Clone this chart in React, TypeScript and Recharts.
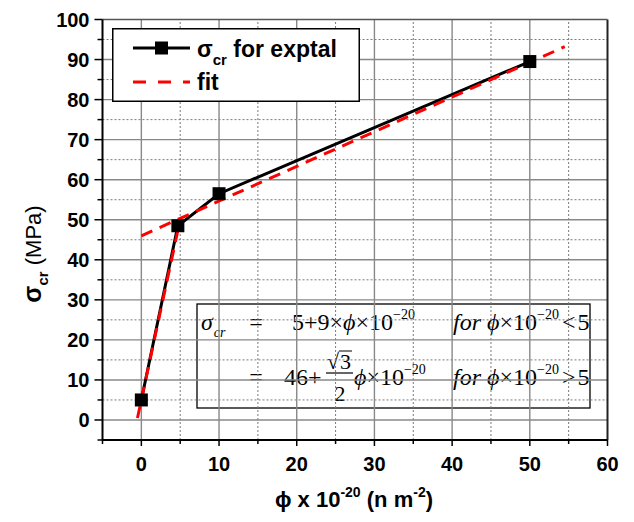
import { LineChart, Line, XAxis, YAxis, ReferenceLine, Legend } from 'recharts';

// experimental points
const expPhi = [0, 4.7, 10, 50];
const expSigma = [5, 48.5, 56.5, 89.5];

// fit segments (end points)
const fitLowPhi = [-0.5, 5];
const fitLowSigma = [0.5, 50];
const fitHighPhi = [0, 54.5];
const fitHighSigma = [46, 93.2];

const xTicks = [-5, 0, 5, 10, 15, 20, 25, 30, 35, 40, 45, 50, 55, 60];
const yTicks = [-5, 0, 5, 10, 15, 20, 25, 30, 35, 40, 45, 50, 55, 60, 65, 70, 75, 80, 85, 90, 95, 100];
const xMajorGrid = [0, 10, 20, 30, 40, 50];
const xMinorGrid = [5, 15, 25, 35, 45, 55];
const yMajorGrid = [0, 10, 20, 30, 40, 50, 60, 70, 80, 90];
const yMinorGrid = [5, 15, 25, 35, 45, 55, 65, 75, 85, 95];

const expData = expPhi.map((x, i) => ({ x, y: expSigma[i] }));
const fitLowData = fitLowPhi.map((x, i) => ({ x, y: fitLowSigma[i] }));
const fitHighData = fitHighPhi.map((x, i) => ({ x, y: fitHighSigma[i] }));

const sans = '"Liberation Sans", Arial, sans-serif';
const serif = '"Liberation Serif", "Times New Roman", serif';

const YTick = (props: any) => {
  const { x, y, payload } = props;
  const v = payload.value;
  const major = v % 10 === 0;
  return (
    <g>
      <line x1={x - (major ? 8 : 5)} x2={x} y1={y} y2={y} stroke="#000" strokeWidth={1.5} />
      {major && v >= 0 && (
        <text x={x - 13} y={y + 7} textAnchor="end" fontFamily={sans} fontWeight="bold" fontSize={20} fill="#000">
          {v}
        </text>
      )}
    </g>
  );
};

const XTick = (props: any) => {
  const { x, y, payload } = props;
  const v = payload.value;
  const major = v % 10 === 0;
  return (
    <g>
      <line x1={x} x2={x} y1={y} y2={y + (major ? 6 : 4)} stroke="#000" strokeWidth={1.5} />
      {major && v >= 0 && (
        <text x={x} y={y + 31} textAnchor="middle" fontFamily={sans} fontWeight="bold" fontSize={20} fill="#000">
          {v}
        </text>
      )}
    </g>
  );
};

const Square = (props: any) => {
  const { cx, cy } = props;
  if (cx == null || cy == null) return null;
  return <rect x={cx - 6.5} y={cy - 6.5} width={13} height={13} fill="#000" />;
};

const LegendBox = (props: any) => {
  const entries = (props.payload || []).filter((e: any) => e.type !== 'none');
  return (
    <svg width={248} height={74} style={{ display: 'block' }}>
      <rect x={0.75} y={0.75} width={246.5} height={72.5} fill="#fff" stroke="#000" strokeWidth={1.5} />
      {entries.map((e: any, i: number) => {
        const ly = i === 0 ? 20 : 54;
        const by = i === 0 ? 29 : 62;
        const isFit = e.value === 'fit';
        return (
          <g key={i}>
            <line
              x1={21}
              x2={78}
              y1={ly}
              y2={ly}
              stroke={isFit ? '#ff0000' : '#000'}
              strokeWidth={3}
              strokeDasharray={isFit ? '13 12' : undefined}
            />
            {!isFit && <rect x={43} y={ly - 6.5} width={13} height={13} fill="#000" />}
            {isFit ? (
              <text x={85} y={by} fontFamily={sans} fontWeight="bold" fontSize={23} fill="#000">fit</text>
            ) : (
              <text x={85} y={by} fontFamily={sans} fontWeight="bold" fontSize={23} fill="#000">
                σ<tspan fontSize={15} dy={8}>cr</tspan>
                <tspan dy={-8}> for exptal</tspan>
              </text>
            )}
          </g>
        );
      })}
    </svg>
  );
};

export default function App() {
  return (
    <div style={{ position: 'absolute', left: 0, top: 0, background: '#fff' }}>
      <LineChart width={634} height={522} margin={{ top: 19.5, right: 26.5, bottom: 42, left: 42.5 }}>
        {xMinorGrid.map((v) => (
          <ReferenceLine key={'xm' + v} x={v} stroke="#7a7a7a" strokeWidth={1} strokeDasharray="2 2" />
        ))}
        {yMinorGrid.map((v) => (
          <ReferenceLine key={'ym' + v} y={v} stroke="#7a7a7a" strokeWidth={1} strokeDasharray="2 2" />
        ))}
        {xMajorGrid.map((v) => (
          <ReferenceLine key={'xM' + v} x={v} stroke="#888" strokeWidth={1.4} />
        ))}
        {yMajorGrid.map((v) => (
          <ReferenceLine key={'yM' + v} y={v} stroke="#888" strokeWidth={1.4} />
        ))}
        <ReferenceLine x={60} stroke="#222" strokeWidth={2} />
        <ReferenceLine y={100} stroke="#555" strokeWidth={1.5} />
        <XAxis
          dataKey="x"
          type="number"
          domain={[-5, 60]}
          ticks={xTicks}
          interval={0}
          height={40}
          tickSize={0}
          tickMargin={0}
          tickLine={false}
          axisLine={{ stroke: '#000', strokeWidth: 2 }}
          tick={<XTick />}
          allowDataOverflow
        />
        <YAxis
          type="number"
          domain={[-5, 100]}
          ticks={yTicks}
          interval={0}
          width={60}
          tickSize={0}
          tickMargin={0}
          tickLine={false}
          axisLine={{ stroke: '#000', strokeWidth: 2 }}
          tick={<YTick />}
          allowDataOverflow
        />
        <Line
          data={expData}
          dataKey="y"
          name="exptal"
          stroke="#000"
          strokeWidth={3}
          dot={<Square />}
          activeDot={false}
          isAnimationActive={false}
        />
        <Line
          data={fitLowData}
          dataKey="y"
          name="fit"
          stroke="#ff0000"
          strokeWidth={3}
          strokeDasharray="12 8"
          dot={false}
          activeDot={false}
          isAnimationActive={false}
        />
        <Line
          data={fitHighData}
          dataKey="y"
          name="fit2"
          legendType="none"
          stroke="#ff0000"
          strokeWidth={3}
          strokeDasharray="12 8"
          dot={false}
          activeDot={false}
          isAnimationActive={false}
        />
        <Legend
          layout="vertical"
          align="center"
          verticalAlign="middle"
          wrapperStyle={{ left: 112, top: 28, width: 248, height: 74 }}
          content={<LegendBox />}
        />

        {/* equation box */}
        <g fontFamily={serif} fontSize={24} fill="#000">
          <rect x={197} y={304} width={393} height={104} fill="#fff" stroke="#000" strokeWidth={1.3} />
          <text x={201} y={330} fontStyle="italic">σ<tspan fontSize={14} dy={7} dx={1}>cr</tspan></text>
          <text x={256} y={330} textAnchor="middle">=</text>
          <text x={292} y={330}>
            5+9×<tspan fontStyle="italic">ϕ</tspan>×10<tspan fontSize={14} dy={-11}>−20</tspan>
          </text>
          <text x={453} y={330}>
            <tspan fontStyle="italic">for ϕ</tspan>×10<tspan fontSize={14} dy={-11}>−20</tspan>
            <tspan dy={11} dx={3}>&lt;</tspan>
            <tspan dx={2}>5</tspan>
          </text>

          <text x={256} y={385} textAnchor="middle">=</text>
          <text x={284} y={385}>46+</text>
          <text x={327} y={369} fontSize={22}>√</text>
          <line x1={339} x2={352} y1={351} y2={351} stroke="#000" strokeWidth={1} />
          <text x={340} y={369} fontSize={22}>3</text>
          <line x1={326} x2={353} y1={373} y2={373} stroke="#000" strokeWidth={1.2} />
          <text x={340} y={401} fontSize={22} textAnchor="middle">2</text>
          <text x={354} y={385}>
            <tspan fontStyle="italic">ϕ</tspan>×10<tspan fontSize={14} dy={-11}>−20</tspan>
          </text>
          <text x={453} y={385}>
            <tspan fontStyle="italic">for ϕ</tspan>×10<tspan fontSize={14} dy={-11}>−20</tspan>
            <tspan dy={11} dx={3}>&gt;</tspan>
            <tspan dx={2}>5</tspan>
          </text>
        </g>

        {/* axis titles */}
        <text x={354} y={507} textAnchor="middle" fontFamily={sans} fontWeight="bold" fontSize={22} fill="#000">
          ϕ x 10<tspan fontSize={14} dy={-10}>-20</tspan>
          <tspan dy={10}> (n m</tspan>
          <tspan fontSize={14} dy={-10}>-2</tspan>
          <tspan dy={10}>)</tspan>
        </text>
        <text
          x={41}
          y={254}
          transform="rotate(-90 41 254)"
          textAnchor="middle"
          fontFamily={sans}
          fontSize={22}
          fill="#000"
        >
          <tspan fontWeight="bold" fontSize={25}>σ</tspan>
          <tspan fontWeight="bold" fontSize={15} dy={7}>cr</tspan>
          <tspan dy={-7}> (MPa)</tspan>
        </text>
      </LineChart>
    </div>
  );
}
